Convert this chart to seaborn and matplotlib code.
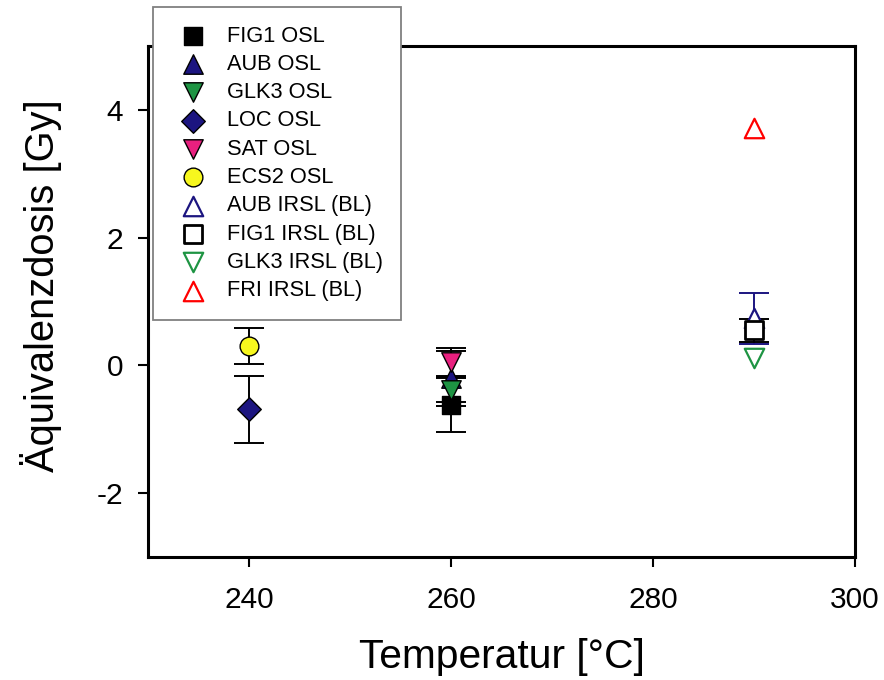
import matplotlib
matplotlib.use("Agg")
import matplotlib.pyplot as plt
import seaborn as sns

sns.set_theme(style="white")
plt.rcParams['font.family'] = ['Liberation Sans', 'DejaVu Sans']
plt.rcParams['axes.unicode_minus'] = False
plt.rcParams['text.color'] = 'black'

# ---- data ----
labels = ["FIG1 OSL", "AUB OSL", "GLK3 OSL", "LOC OSL", "SAT OSL", "ECS2 OSL",
          "AUB IRSL (BL)", "FIG1 IRSL (BL)", "GLK3 IRSL (BL)", "FRI IRSL (BL)"]
temps = [260, 260, 260, 240, 260, 240, 290, 290, 290, 290]
values = [-0.62, -0.20, -0.38, -0.69, 0.05, 0.30, 0.74, 0.55, 0.12, 3.72]
errors = [0.42, 0.43, 0.20, 0.52, 0.22, 0.28, 0.40, 0.18, 0.0, 0.0]
x_ticks = [240, 260, 280, 300]
y_ticks = [-2, 0, 2, 4]

# ---- styles ----
markers = ["s", "^", "v", "D", "v", "o", "^", "s", "v", "^"]
faces = ["black", "#1c1580", "#1e9443", "#1c1580", "#e8207f", "#f7f71e",
         "white", "white", "white", "white"]
edges = ["black", "black", "black", "black", "black", "black",
         "#1c1580", "black", "#1e9443", "#ff0000"]
ecolors = ["black", "black", "black", "black", "black", "black",
           "#1c1580", "black", "#1e9443", "#ff0000"]
sizes = [13, 14, 14, 12, 14, 13.5, 14, 13, 14, 14]
lws = [1, 1, 1, 1, 1, 1, 1.6, 2.0, 1.6, 1.6]

fig = plt.figure(figsize=(8.84, 6.8), dpi=100)
ax = fig.add_axes([0.1674, 0.1809, 0.7998, 0.7515])

for i, lab in enumerate(labels):
    if errors[i] > 0:
        ax.errorbar([temps[i]], [values[i]], yerr=[errors[i]], fmt='none',
                    ecolor=ecolors[i], elinewidth=1.4, capsize=11, capthick=1.4,
                    zorder=2 + i * 0.1)
    sns.scatterplot(x=[temps[i]], y=[values[i]], marker=markers[i],
                    s=sizes[i] ** 2, color=faces[i], edgecolor=edges[i],
                    linewidth=lws[i], label=lab, ax=ax, zorder=3 + i * 0.1)

ax.set_xlim(230, 300)
ax.set_ylim(-3, 5)
ax.set_xticks(x_ticks)
ax.set_yticks(y_ticks)
ax.set_xticklabels([str(t) for t in x_ticks])
ax.set_yticklabels([str(t) for t in y_ticks])
ax.tick_params(axis='both', labelsize=21.5, length=7, width=1.5, direction='out',
               colors='black', top=False, right=False)
ax.tick_params(axis='x', bottom=True, pad=14)
ax.tick_params(axis='y', left=True, pad=11)
for sp in ax.spines.values():
    sp.set_visible(True)
    sp.set_color('black')
    sp.set_linewidth(2.2)

ax.set_xlabel("Temperatur [°C]", fontsize=29.3, labelpad=17, color='black')
ax.set_ylabel("Äquivalenzdosis [Gy]", fontsize=28.7, labelpad=25, color='black')
ax.yaxis.label.set_y(0.532)

leg = ax.legend(loc='upper left', bbox_to_anchor=(153 / 884, 1 - 7 / 680),
                bbox_transform=fig.transFigure, borderaxespad=0,
                fontsize=15.7, frameon=True, fancybox=False, framealpha=1,
                edgecolor='#808080', handlelength=2.0, handletextpad=0.53,
                labelspacing=0.335, borderpad=0.85, scatterpoints=1)
for t in leg.get_texts():
    t.set_color('black')
leg.get_frame().set_linewidth(1.3)
leg.set_zorder(10)

fig.savefig("out.png", dpi=100, facecolor='white')
